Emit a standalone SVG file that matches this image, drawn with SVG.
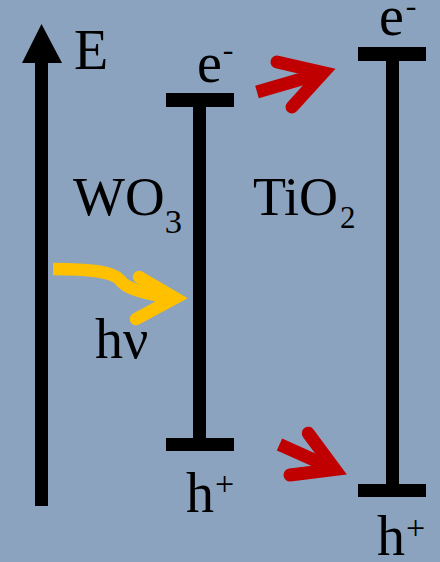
<svg xmlns="http://www.w3.org/2000/svg" width="440" height="562" viewBox="0 0 440 562">
<style>
.t{font-family:"Liberation Serif","Times New Roman",serif;fill:#000}
.bar{fill:#000}
.red{fill:none;stroke:#c00000;stroke-width:13}
.yel{fill:none;stroke:#ffc000;stroke-width:12.5}
</style>
<rect width="440" height="562" fill="#8ba3be"/>
<g id="energy-axis">
<rect class="bar" x="35" y="60" width="13" height="446"/>
<polygon class="bar" points="22,63 41.5,24 62,63"/>
<text class="t" x="74" y="69" font-size="56">E</text>
</g>
<g id="wo3">
<rect class="bar" x="166" y="93" width="68" height="14"/>
<rect class="bar" x="193" y="93" width="13" height="358"/>
<rect class="bar" x="166" y="438" width="68" height="13"/>
<text class="t" x="197" y="82" font-size="56">e<tspan font-size="32" dx="1" dy="-22">-</tspan></text>
<text class="t" x="73" y="215" font-size="54" textLength="109" lengthAdjust="spacingAndGlyphs">WO<tspan font-size="34" dy="18">3</tspan></text>
<text class="t" x="186" y="512" font-size="56">h<tspan font-size="34" dx="1" dy="-17">+</tspan></text>
</g>
<g id="tio2">
<rect class="bar" x="358" y="47" width="68" height="14"/>
<rect class="bar" x="386" y="47" width="13" height="450"/>
<rect class="bar" x="358" y="484" width="68" height="13"/>
<text class="t" x="379" y="35" font-size="56">e<tspan font-size="32" dx="2" dy="-19">-</tspan></text>
<text class="t" x="253" y="215" font-size="54">TiO<tspan font-size="31" dx="2" dy="13">2</tspan></text>
<text class="t" x="377" y="555" font-size="56">h<tspan font-size="34" dx="1" dy="-16">+</tspan></text>
</g>
<g id="light">
<text class="t" x="95" y="358" font-size="56">hν</text>
</g>
<g id="connectors">
<path class="yel" d="M53,269 C92,269 113,272 120,280 C126,289 145,294 174,298"/>
<polyline class="yel" points="139,277 175,298 136,319" stroke-linecap="round" stroke-linejoin="miter" stroke-miterlimit="10"/>
<path class="red" d="M257,92 L323.2,72.7"/>
<polyline class="red" points="277,62 323.2,72.7 292,107" stroke-linecap="round" stroke-linejoin="miter"/>
<path class="red" d="M279.5,444.5 L335,469.4"/>
<polyline class="red" points="308.3,433.3 335,469.4 290,475" stroke-linecap="round" stroke-linejoin="miter"/>
</g>
</svg>
